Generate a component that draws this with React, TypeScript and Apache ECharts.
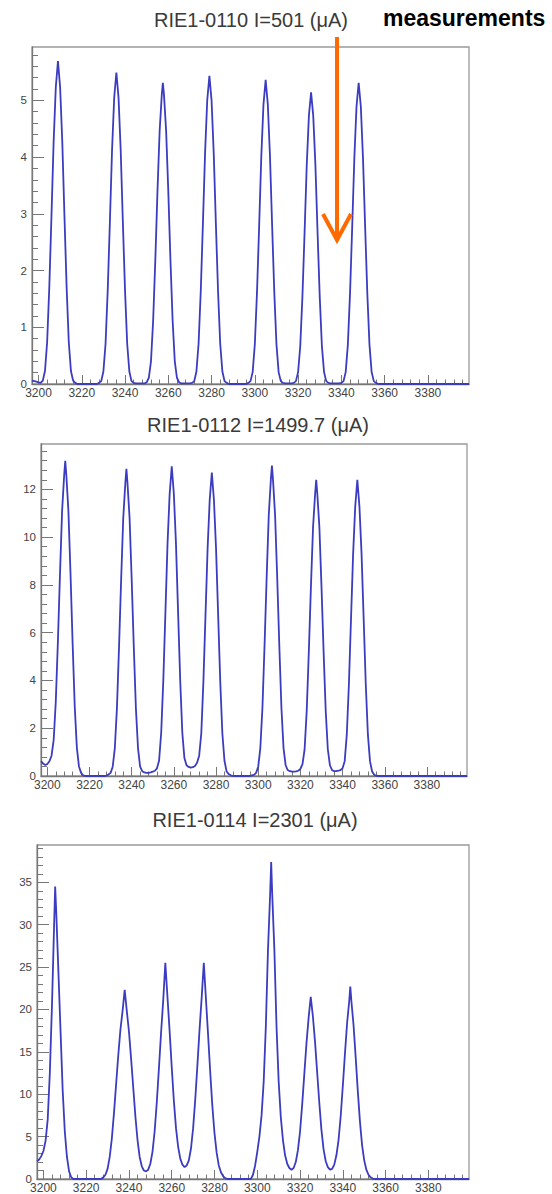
import React, { useEffect, useRef } from "react";
import * as echarts from "echarts";

// Wavelength axis shared by the three spectra
const X_MIN = 3197;
const X_MAX = 3399;
const xTickValues = [3200, 3220, 3240, 3260, 3280, 3300, 3320, 3340, 3360, 3380];
const xMinorStep = 4;

const titles = [
  "RIE1-0110 I=501 (\u03bcA)",
  "RIE1-0112 I=1499.7 (\u03bcA)",
  "RIE1-0114 I=2301 (\u03bcA)",
];

const yMax0110 = 5.94;
const yMax0112 = 13.9;
const yMax0114 = 39.4;
const yTicks0110 = [0, 1, 2, 3, 4, 5];
const yTicks0112 = [0, 2, 4, 6, 8, 10, 12];
const yTicks0114 = [0, 5, 10, 15, 20, 25, 30, 35];
const yMinor0110 = 0.2;
const yMinor0112 = 0.4;
const yMinor0114 = 1;

// Spectrum, I = 501 uA
const spectrum0110: [number, number][] = [
  [3197, 0.06], [3198, 0.05], [3199, 0.04], [3200, 0.03], [3201, 0.02], [3202, 0.06], [3203, 0.23], [3204, 0.74],
  [3205, 1.71], [3206, 2.96], [3207, 4.27], [3208, 5.23], [3209, 5.69], [3210, 5.23], [3211, 4.27], [3212, 2.96],
  [3213, 1.71], [3214, 0.74], [3215, 0.23], [3216, 0.06], [3217, 0.02], [3218, 0],
  [3227, 0], [3228, 0.02], [3229, 0.05], [3230, 0.22], [3231, 0.71], [3232, 1.65], [3233, 2.85], [3234, 4.12],
  [3235, 5.05], [3236, 5.49], [3237, 5.05], [3238, 4.12], [3239, 2.85], [3240, 1.65], [3241, 0.71], [3242, 0.22],
  [3243, 0.05], [3244, 0.02], [3245, 0.01], [3246, 0.01], [3247, 0.01],
  [3248, 0.01], [3249, 0.01], [3250, 0.03], [3251, 0.11], [3252, 0.4], [3253, 1.12], [3254, 2.18], [3255, 3.4],
  [3256, 4.46], [3257, 5.1], [3257.5, 5.31], [3258, 5.1], [3259, 4.46], [3260, 3.4], [3261, 2.18], [3262, 1.12],
  [3263, 0.4], [3264, 0.11], [3265, 0.03], [3266, 0.01], [3267, 0.01], [3268, 0.01],
  [3269, 0.01], [3270, 0.01], [3271, 0.02], [3272, 0.05], [3273, 0.22], [3274, 0.71], [3275, 1.63], [3276, 2.82],
  [3277, 4.07], [3278, 5.0], [3279, 5.43], [3280, 5.0], [3281, 4.07], [3282, 2.82], [3283, 1.63], [3284, 0.71],
  [3285, 0.22], [3286, 0.05], [3287, 0.02], [3288, 0],
  [3296, 0], [3297, 0.02], [3298, 0.05], [3299, 0.21], [3300, 0.7], [3301, 1.61], [3302, 2.79], [3303, 4.02],
  [3304, 4.93], [3305, 5.36], [3306, 4.93], [3307, 4.02], [3308, 2.79], [3309, 1.61], [3310, 0.7], [3311, 0.21],
  [3312, 0.05], [3313, 0.02], [3314, 0.01], [3315, 0.01],
  [3316, 0.01], [3317, 0.01], [3318, 0.02], [3319, 0.05], [3320, 0.21], [3321, 0.67], [3322, 1.54], [3323, 2.67],
  [3324, 3.86], [3325, 4.73], [3326, 5.14], [3327, 4.73], [3328, 3.86], [3329, 2.67], [3330, 1.54], [3331, 0.67],
  [3332, 0.21], [3333, 0.05], [3334, 0.02], [3335, 0.01], [3336, 0.01], [3337, 0.01],
  [3338, 0.01], [3339, 0.01], [3340, 0.02], [3341, 0.05], [3342, 0.21], [3343, 0.69], [3344, 1.59], [3345, 2.76],
  [3346, 3.98], [3347, 4.89], [3348, 5.31], [3349, 4.89], [3350, 3.98], [3351, 2.76], [3352, 1.59], [3353, 0.69],
  [3354, 0.21], [3355, 0.05], [3356, 0.02], [3357, 0], [3399, 0],
];

// Spectrum, I = 1499.7 uA
const spectrum0112: [number, number][] = [
  [3197, 0.62], [3198, 0.52], [3199, 0.46], [3200, 0.5], [3201, 0.62], [3202, 0.85], [3203, 1.5], [3204, 3.1],
  [3205, 5.6], [3206, 8.45], [3207, 11.09], [3208, 12.61], [3208.5, 13.2], [3209, 12.61], [3210, 11.09], [3211, 8.45],
  [3212, 5.54], [3213, 2.9], [3214, 1.19], [3215, 0.4], [3216, 0.13], [3217, 0.03], [3218, 0],
  [3227, 0], [3228, 0.02], [3229, 0.06], [3230, 0.13], [3231, 0.39], [3232, 1.16], [3233, 2.83], [3234, 5.4],
  [3235, 8.23], [3236, 10.8], [3237, 12.28], [3237.5, 12.86], [3238, 12.28], [3239, 10.8], [3240, 8.23], [3241, 5.4],
  [3242, 2.83], [3243, 1.16], [3244, 0.39], [3245, 0.2], [3246, 0.15], [3247, 0.13], [3248, 0.13], [3249, 0.15],
  [3250, 0.18], [3251, 0.22], [3252, 0.32], [3253, 0.65], [3254, 1.82], [3255, 4.02], [3256, 6.87], [3257, 9.73],
  [3258, 11.8], [3259, 12.97], [3260, 11.8], [3261, 9.73], [3262, 6.87], [3263, 4.02], [3264, 1.82], [3265, 0.75],
  [3266, 0.45], [3267, 0.38], [3268, 0.35], [3269, 0.37],
  [3270, 0.42], [3271, 0.55], [3272, 0.85], [3273, 1.78], [3274, 3.94], [3275, 6.73], [3276, 9.53], [3277, 11.56],
  [3278, 12.7], [3279, 11.56], [3280, 9.53], [3281, 6.73], [3282, 3.94], [3283, 1.78], [3284, 0.64], [3285, 0.19],
  [3286, 0.08], [3287, 0.03], [3288, 0],
  [3296, 0], [3297, 0.03], [3298, 0.05], [3299, 0.13], [3300, 0.39], [3301, 1.17], [3302, 2.86], [3303, 5.46],
  [3304, 8.32], [3305, 10.92], [3306, 12.42], [3306.5, 13.0], [3307, 12.42], [3308, 10.92], [3309, 8.32], [3310, 5.46],
  [3311, 2.86], [3312, 1.17], [3313, 0.45], [3314, 0.25], [3315, 0.2], [3316, 0.18], [3317, 0.18],
  [3318, 0.19], [3319, 0.22], [3320, 0.3], [3321, 0.5], [3322, 1.12], [3323, 2.73], [3324, 5.21], [3325, 7.94],
  [3326, 10.42], [3327, 11.84], [3327.5, 12.4], [3328, 11.84], [3329, 10.42], [3330, 7.94], [3331, 5.21], [3332, 2.73],
  [3333, 1.12], [3334, 0.45], [3335, 0.25], [3336, 0.2], [3337, 0.2], [3338, 0.22],
  [3339, 0.25], [3340, 0.32], [3341, 0.62], [3342, 1.74], [3343, 3.84], [3344, 6.57], [3345, 9.3], [3346, 11.28],
  [3347, 12.4], [3348, 11.28], [3349, 9.3], [3350, 6.57], [3351, 3.84], [3352, 1.74], [3353, 0.62], [3354, 0.19],
  [3355, 0.05], [3356, 0.01], [3357, 0], [3399, 0],
];

// Spectrum, I = 2301 uA
const spectrum0114: [number, number][] = [
  [3197, 2.1], [3198, 2.3], [3199, 2.7], [3200, 3.3], [3201, 4.5], [3202, 7.0], [3203, 12.5], [3204, 20.5],
  [3205, 30.0], [3205.5, 34.5], [3206, 31.5], [3207, 24.5], [3208, 17.5], [3209, 10.5], [3210, 5.6], [3211, 2.6],
  [3212, 0.9], [3213, 0.2], [3214, 0],
  [3227, 0], [3228, 0.2], [3229, 0.5], [3230, 1.2], [3231, 2.6], [3232, 4.8], [3233, 7.8], [3234, 11.2],
  [3235, 14.6], [3236, 17.6], [3237, 19.8], [3238, 22.3], [3239, 19.8], [3240, 17.4], [3241, 14.2], [3242, 10.8],
  [3243, 7.4], [3244, 4.6], [3245, 2.6], [3246, 1.5], [3247, 1.0], [3248, 0.9], [3249, 1.1],
  [3250, 1.8], [3251, 3.2], [3252, 5.6], [3253, 9.0], [3254, 13.0], [3255, 17.2], [3256, 21.0], [3257, 25.5],
  [3258, 21.5], [3259, 17.5], [3260, 13.2], [3261, 9.2], [3262, 6.0], [3263, 3.8], [3264, 2.4], [3265, 1.7],
  [3266, 1.4], [3267, 1.6],
  [3268, 2.2], [3269, 3.6], [3270, 6.0], [3271, 9.4], [3272, 13.4], [3273, 17.6], [3274, 21.4], [3275, 25.5],
  [3276, 21.2], [3277, 17.0], [3278, 12.6], [3279, 8.6], [3280, 5.4], [3281, 3.1], [3282, 1.6], [3283, 0.8],
  [3284, 0.35], [3285, 0.1], [3286, 0],
  [3297, 0], [3298, 0.5], [3299, 1.6], [3300, 3.2], [3301, 5.0], [3302, 7.5], [3303, 11.5], [3304, 18.0],
  [3305, 27.0], [3306, 33.5], [3306.5, 37.4], [3307, 33.5], [3308, 27.0], [3309, 18.0], [3310, 11.5], [3311, 7.3],
  [3312, 4.6], [3313, 2.8], [3314, 1.8], [3315, 1.3], [3316, 1.1], [3317, 1.3],
  [3318, 2.0], [3319, 3.4], [3320, 5.6], [3321, 8.8], [3322, 12.4], [3323, 16.0], [3324, 19.0], [3325, 21.5],
  [3326, 19.2], [3327, 16.2], [3328, 12.6], [3329, 9.0], [3330, 5.8], [3331, 3.5], [3332, 2.1], [3333, 1.4],
  [3334, 1.1], [3335, 1.2],
  [3336, 1.7], [3337, 2.8], [3338, 4.6], [3339, 7.4], [3340, 11.0], [3341, 14.8], [3342, 18.4], [3343, 21.0],
  [3343.5, 22.7], [3344, 21.0], [3345, 18.2], [3346, 14.4], [3347, 10.4], [3348, 6.8], [3349, 4.0], [3350, 2.2],
  [3351, 1.1], [3352, 0.5], [3353, 0.2], [3354, 0.05], [3355, 0], [3399, 0],
];

const spectra = [spectrum0110, spectrum0112, spectrum0114];
const yMaxes = [yMax0110, yMax0112, yMax0114];
const yTicks = [yTicks0110, yTicks0112, yTicks0114];
const yMinorSteps = [yMinor0110, yMinor0112, yMinor0114];

// Frame rectangles and title anchors of the three pads
const frames = [
  { left: 32, top: 47, right: 469, bottom: 384, titleX: 251, titleY: 20 },
  { left: 41, top: 444, right: 467, bottom: 776, titleX: 258, titleY: 425 },
  { left: 37, top: 845, right: 469, bottom: 1180, titleX: 255, titleY: 820 },
];

const FONT = "'Liberation Sans', Arial, Helvetica, sans-serif";
const LINE_COLOR = "#3c3cc0";
const FRAME_COLOR = "#9a9a9a";
const TICK_COLOR = "#777777";
const LABEL_COLOR = "#444444";

function minorValues(lo: number, hi: number, step: number, majors: number[]) {
  const out: number[] = [];
  for (let i = 0; ; i++) {
    const v = Math.round((lo + i * step) * 1000) / 1000;
    if (v > hi) break;
    if (!majors.includes(v)) out.push(v);
  }
  return out;
}

const plainNumber = (v: number) => String(v);

export default function App() {
  const ref = useRef<HTMLDivElement>(null);

  useEffect(() => {
    if (!ref.current) return;
    const chart = echarts.init(ref.current, undefined, { renderer: "svg" });

    const xMinor = minorValues(3200, X_MAX, xMinorStep, xTickValues);

    const grid: any[] = [];
    const xAxis: any[] = [];
    const yAxis: any[] = [];
    const series: any[] = [];
    const graphic: any[] = [];

    frames.forEach((f, i) => {
      grid.push({
        left: f.left,
        top: f.top,
        width: f.right - f.left,
        height: f.bottom - f.top,
        show: true,
        borderColor: FRAME_COLOR,
        borderWidth: 1.3,
        backgroundColor: "transparent",
      });

      const yMinor = minorValues(0, yMaxes[i], yMinorSteps[i], yTicks[i]);

      xAxis.push(
        {
          type: "value",
          gridIndex: i,
          position: "bottom",
          min: X_MIN,
          max: X_MAX,
          axisLine: { show: true, onZero: false, lineStyle: { color: TICK_COLOR, width: 1.3 } },
          splitLine: { show: false },
          axisTick: { show: true, inside: true, length: 9, customValues: xTickValues, lineStyle: { color: TICK_COLOR } },
          axisLabel: {
            customValues: xTickValues,
            formatter: plainNumber,
            fontSize: 12,
            fontFamily: FONT,
            color: LABEL_COLOR,
            margin: 3,
          },
        },
        {
          type: "value",
          gridIndex: i,
          position: "bottom",
          min: X_MIN,
          max: X_MAX,
          axisLine: { show: false, onZero: false },
          splitLine: { show: false },
          axisTick: { show: true, inside: true, length: 4.5, customValues: xMinor, lineStyle: { color: TICK_COLOR } },
          axisLabel: { show: false },
        }
      );

      yAxis.push(
        {
          type: "value",
          gridIndex: i,
          position: "left",
          min: 0,
          max: yMaxes[i],
          axisLine: { show: true, onZero: false, lineStyle: { color: TICK_COLOR, width: 1.3 } },
          splitLine: { show: false },
          axisTick: { show: true, inside: true, length: 12, customValues: yTicks[i], lineStyle: { color: TICK_COLOR } },
          axisLabel: {
            customValues: yTicks[i],
            formatter: plainNumber,
            fontSize: 11.5,
            fontFamily: FONT,
            color: LABEL_COLOR,
            margin: 5,
          },
        },
        {
          type: "value",
          gridIndex: i,
          position: "left",
          min: 0,
          max: yMaxes[i],
          axisLine: { show: false, onZero: false },
          splitLine: { show: false },
          axisTick: { show: true, inside: true, length: 6, customValues: yMinor, lineStyle: { color: TICK_COLOR } },
          axisLabel: { show: false },
        }
      );

      series.push({
        type: "line",
        xAxisIndex: 2 * i,
        yAxisIndex: 2 * i,
        data: spectra[i],
        showSymbol: false,
        symbol: "none",
        silent: true,
        clip: true,
        lineStyle: { color: LINE_COLOR, width: 1.8 },
      });

      graphic.push({
        type: "text",
        x: f.titleX,
        y: f.titleY,
        style: {
          text: titles[i],
          fontSize: 20,
          fontFamily: FONT,
          fill: "#3a3a3a",
          textAlign: "center",
          textVerticalAlign: "middle",
        },
      });
    });

    // Annotation: label and orange arrow pointing into the first spectrum
    graphic.push(
      {
        type: "text",
        x: 383,
        y: 18,
        z: 100,
        style: {
          text: "measurements",
          fontSize: 23,
          fontWeight: "bold",
          fontFamily: FONT,
          fill: "#000000",
          textAlign: "left",
          textVerticalAlign: "middle",
        },
      },
      {
        type: "line",
        z: 100,
        shape: { x1: 337, y1: 37, x2: 337, y2: 238 },
        style: { stroke: "#ff6a00", lineWidth: 4 },
      },
      {
        type: "polyline",
        z: 100,
        shape: { points: [[323, 214], [337, 240], [351, 214]] },
        style: { stroke: "#ff6a00", lineWidth: 4, fill: "none", lineJoin: "miter" },
      }
    );

    chart.setOption({
      animation: false,
      backgroundColor: "#ffffff",
      grid,
      xAxis,
      yAxis,
      series,
      graphic,
    });

    return () => chart.dispose();
  }, []);

  return (
    <div
      ref={ref}
      style={{ position: "absolute", left: 0, top: 0, width: 552, height: 1194 }}
    />
  );
}
